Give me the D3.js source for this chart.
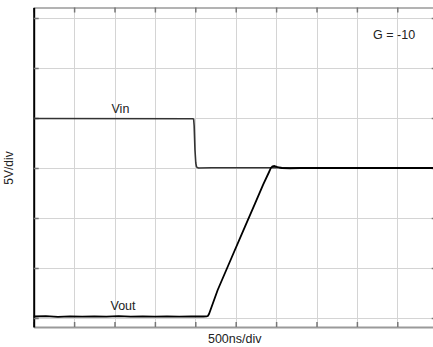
<!DOCTYPE html>
<html>
<head>
<meta charset="utf-8">
<script src="https://cdn.jsdelivr.net/npm/d3@7"></script>
<style>
  html, body { margin: 0; padding: 0; background: #fff; }
  svg { display: block; font-family: "Liberation Sans", Arial, sans-serif; }
</style>
</head>
<body>
<svg id="chart" width="433" height="347"></svg>
<script>
// Time in ns, voltage in V (500 ns/div, 5 V/div)
const timeTicks = [0, 500, 1000, 1500, 2000, 2500, 3000, 3500, 4000, 4500, 5000];
const voltTicks = [-15, -10, -5, 0, 5, 10, 15];

// Input step (Vin)
const vinTime = [0, 1972, 1980, 1986, 1996, 2006, 2014, 2024, 2040, 2200, 3000, 4000, 5000];
const vinVolt = [4.95, 4.93, 4.85, 4.2, 1.8, 0.5, 0.15, 0.04, 0.0, 0.02, 0.02, 0.02, 0.02];

// Output response (Vout), gain -10
const voutTime = [0, 150, 300, 450, 600, 750, 900, 1050, 1200, 1350, 1500, 1650, 1800, 1950, 2100, 2140,
                  2155, 2170, 2277, 2450, 2615, 2740, 2841, 2910, 2935, 2955, 2980, 3010, 3040, 3073, 3171, 3300, 4000, 5000];
const voutVolt = [-14.85, -14.82, -14.88, -14.83, -14.87, -14.84, -14.86, -14.82, -14.87, -14.83, -14.86, -14.84, -14.87, -14.83, -14.85, -14.84,
                  -14.8, -14.6, -12.2, -8.95, -5.87, -3.53, -1.63, -0.45, 0.0, 0.17, 0.2, 0.12, 0.05, 0.0, -0.03, 0.0, 0.0, 0.0];

const svg = d3.select("#chart");
const x = d3.scaleLinear().domain([0, 5000]).range([33.7, 437.7]);
const y = d3.scaleLinear().domain([-15.9, 16.05]).range([327, 7.5]);

// grid
const grid = svg.append("g").attr("stroke", "#d4d4d4").attr("stroke-width", 1);
grid.selectAll("line.v").data(timeTicks.slice(1)).join("line")
  .attr("x1", d => Math.round(x(d)) + 0.5).attr("x2", d => Math.round(x(d)) + 0.5)
  .attr("y1", y.range()[1]).attr("y2", y.range()[0]);
grid.selectAll("line.h").data(voltTicks).join("line")
  .attr("x1", x.range()[0]).attr("x2", x.range()[1])
  .attr("y1", d => Math.round(y(d)) + 0.5).attr("y2", d => Math.round(y(d)) + 0.5);

// frame axes with inward ticks
function styleAxis(g, color, width) {
  g.select(".domain").attr("stroke", color).attr("stroke-width", width);
  g.selectAll(".tick line").attr("stroke", "#777").attr("stroke-width", 1.5);
  g.selectAll(".tick text").remove();
}
svg.append("g").attr("transform", `translate(0,${y.range()[1]})`)
  .call(d3.axisBottom(x).tickValues(timeTicks).tickSize(5).tickSizeOuter(0).tickFormat(""))
  .call(g => styleAxis(g, "#9a9a9a", 1.5));
svg.append("g").attr("transform", `translate(0,${y.range()[0]})`)
  .call(d3.axisTop(x).tickValues(timeTicks).tickSize(5).tickSizeOuter(0).tickFormat(""))
  .call(g => styleAxis(g, "#9a9a9a", 2));
svg.append("g").attr("transform", `translate(${x.range()[1]},0)`)
  .call(d3.axisLeft(y).tickValues(voltTicks).tickSize(6).tickSizeOuter(0).tickFormat(""))
  .call(g => styleAxis(g, "#9a9a9a", 1.5));
svg.append("g").attr("transform", `translate(${x.range()[0]},0)`)
  .call(d3.axisRight(y).tickValues(voltTicks).tickSize(5).tickSizeOuter(0).tickFormat(""))
  .call(g => styleAxis(g, "#000", 2));

// traces
const line = d3.line().x(d => x(d[0])).y(d => y(d[1]));
svg.append("path")
  .datum(vinTime.map((t, i) => [t, vinVolt[i]]))
  .attr("fill", "none").attr("stroke", "#333").attr("stroke-width", 1.6)
  .attr("stroke-linejoin", "round")
  .attr("d", line);
svg.append("path")
  .datum(voutTime.map((t, i) => [t, voutVolt[i]]))
  .attr("fill", "none").attr("stroke", "#000").attr("stroke-width", 1.8)
  .attr("stroke-linejoin", "round")
  .attr("d", line);

// labels
const txt = (s, tx, ty, anchor) => svg.append("text")
  .attr("x", tx).attr("y", ty).attr("text-anchor", anchor || "start")
  .attr("font-size", 12.5).attr("fill", "#222").text(s);
txt("Vin", x(1000) - 3, y(5) - 5.5);
txt("Vout", x(1000) - 4, y(-15) - 8);
txt("G = -10", x(4250) - 4, y(13) + 1);
txt("500ns/div", (x.range()[0] + x.range()[1]) / 2 - 1, 343, "middle");
svg.append("text")
  .attr("transform", `translate(13,${y(0)}) rotate(-90)`)
  .attr("text-anchor", "middle").attr("font-size", 12).attr("fill", "#222")
  .text("5V/div");
</script>
</body>
</html>
